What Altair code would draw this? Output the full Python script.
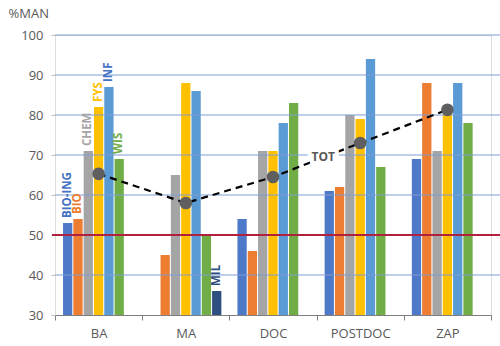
import altair as alt
import pandas as pd

groups = ["BA", "MA", "DOC", "POSTDOC", "ZAP"]
series = ["BIO-ING", "BIO", "CHEM", "FYS", "INF", "WIS", "MIL"]

bio_ing = [53, None, 54, 61, 69]
bio = [54, 45, 46, 62, 88]
chem = [71, 65, 71, 80, 71]
fys = [82, 88, 71, 79, 80]
inf = [87, 86, 78, 94, 88]
wis = [69, 50, 83, 67, 78]
mil = [None, 36, None, None, None]
tot = [65.3, 58, 64.5, 73, 81.3]

bar_colors = ["#4E79C8", "#ED7D31", "#A5A5A5", "#FFC000", "#5B9BD5", "#70AD47", "#2E4F80"]
label_colors = {"BIO-ING": "#4472C4", "BIO": "#ED7D31", "CHEM": "#A5A5A5", "FYS": "#FFC000",
                "INF": "#4472C4", "WIS": "#70AD47", "MIL": "#2E4F80"}

y_ticks = [30, 40, 50, 60, 70, 80, 90, 100]

rows = []
for s, vals in zip(series, [bio_ing, bio, chem, fys, inf, wis, mil]):
    for g, v in zip(groups, vals):
        if v is not None:
            rows.append({"group": g, "series": s, "value": v, "lc": label_colors[s]})
df = pd.DataFrame(rows)
labels_df = df[(df["group"] == "BA") | (df["series"] == "MIL")]
tot_df = pd.DataFrame({"group": groups, "value": tot})
grid_df = pd.DataFrame({"value": [t for t in y_ticks if t not in (30, 50)]})
red_df = pd.DataFrame({"value": [50]})
tot_label_df = pd.DataFrame({"group": ["POSTDOC"], "value": [69.5], "t": ["TOT"]})

FONT = "Open Sans"

xscale = alt.Scale(domain=groups, paddingInner=0, paddingOuter=0)
xaxis = alt.Axis(title=None, tickBand="extent", labelAngle=0, labelFontSize=13,
                 labelColor="#595959", labelFont=FONT, domainColor="#7F7F7F",
                 tickColor="#7F7F7F", tickSize=5, labelPadding=7, grid=False)
yscale = alt.Scale(domain=[30, 100], zero=False, nice=False)
yaxis = alt.Axis(title="%MAN", values=y_ticks, tickCount=8, labelOverlap=False,
                 titleAngle=0, titleAlign="left", titleBaseline="middle",
                 titleX=-47, titleY=-22, titleFont=FONT, titleFontSize=13,
                 titleFontWeight="normal", titleColor="#595959",
                 grid=False, domain=False, tickSize=4, tickColor="#BFBFBF",
                 labelFontSize=13, labelColor="#595959", labelFont=FONT, labelPadding=8)

X = alt.X("group:N", sort=groups, scale=xscale, axis=xaxis)
Y = alt.Y("value:Q", scale=yscale, axis=yaxis)

bars = alt.Chart(df).mark_bar().encode(
    x=X,
    xOffset=alt.XOffset("series:N", sort=series,
                        scale=alt.Scale(domain=series, paddingInner=0.1, paddingOuter=0.78)),
    y=Y,
    y2=alt.datum(30),
    color=alt.Color("series:N", scale=alt.Scale(domain=series, range=bar_colors), legend=None),
)

grid = alt.Chart(grid_df).mark_rule(color="#7F9CD3", strokeWidth=1).encode(
    y=Y, x=alt.value(0), x2=alt.value(445))

redline = alt.Chart(red_df).mark_rule(color="#B0203F", strokeWidth=2).encode(
    y=Y, x=alt.value(-3), x2=alt.value(445))

labels = alt.Chart(labels_df).mark_text(angle=270, align="left", baseline="middle", dx=5,
                                        fontSize=11.5, fontWeight="bold", font=FONT).encode(
    x=X,
    xOffset=alt.XOffset("series:N", sort=series),
    y=Y,
    text="series:N",
    color=alt.Color("lc:N", scale=None),
)

line = alt.Chart(tot_df).mark_line(color="black", strokeWidth=2.2, strokeDash=[7, 5]).encode(
    x=X, y=Y)
pts = alt.Chart(tot_df).mark_point(filled=True, size=160, color="#5F5F5F", opacity=1).encode(
    x=X, y=Y)
tot_halo = alt.Chart(tot_label_df).mark_text(
    fontSize=12, fontWeight="bold", color="white", stroke="white", strokeWidth=8,
    font=FONT, dx=-37).encode(x=X, y=Y, text="t:N")
tot_label = alt.Chart(tot_label_df).mark_text(
    fontSize=12, fontWeight="bold", color="#595959", font=FONT, dx=-37).encode(
    x=X, y=Y, text="t:N")

chart = alt.layer(bars, grid, redline, line, pts, labels, tot_halo, tot_label).properties(
    width=436, height=280,
    autosize=alt.AutoSizeParams(type="none"),
    padding={"left": 55, "top": 35, "right": 9, "bottom": 31},
).configure_view(stroke=None).configure(background="white")

chart.save("out.html", embed_options={"renderer": "svg", "actions": False})
